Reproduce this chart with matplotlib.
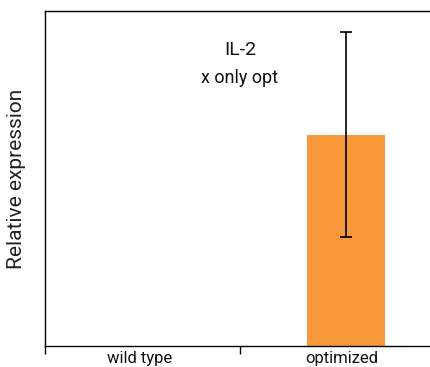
import matplotlib
matplotlib.use("Agg")
import matplotlib.pyplot as plt

# data
categories = ["wild type", "optimized"]
values = [0.0, 1.01]
errors = [0.0, 0.49]
bar_color = "#F7993A"

plt.rcParams["font.family"] = ["Roboto", "DejaVu Sans"]

fig = plt.figure(figsize=(4.31, 3.67), dpi=100)
W, H = 431, 367
# axes box in pixels: left 45, right cut off by the figure edge, top 11, bottom 346
ax = fig.add_axes([45 / W, (H - 346) / H, (445 - 45) / W, (346 - 11) / H])

# pixel = 140 + 202 * x
x_pos = [0, 1.02]
ax.bar(x_pos[1:], values[1:], width=0.386, color=bar_color, zorder=2)
ax.errorbar(x_pos[1:], values[1:], yerr=errors[1:], fmt="none", ecolor="black",
            elinewidth=1.2, capsize=4, capthick=1.2, zorder=3)

ax.set_xlim(-0.47, (445 - 140) / 202)
ax.set_ylim(0, 1.6)

ax.set_xticks([-0.47, (240 - 140) / 202])
ax.set_xticklabels([])
ax.set_xticks([0, 1.0], minor=True)
ax.set_xticklabels(categories, minor=True, fontsize=12, color="#111111")
ax.tick_params(axis="x", which="major", length=6, width=1, direction="out")
ax.tick_params(axis="x", which="minor", length=0, pad=3.5)
ax.set_yticks([])

for s in ["left", "top", "bottom"]:
    ax.spines[s].set_linewidth(1.0)
ax.spines["right"].set_visible(False)

ax.set_ylabel("Relative expression", fontsize=15, labelpad=14, color="#222222")

ax.text((240 - 45) / 400, 1 - (50 - 11) / 335, "IL-2", transform=ax.transAxes,
        ha="center", va="center", fontsize=14, color="#111111")
ax.text((240 - 45) / 400, 1 - (78 - 11) / 335, "x only opt", transform=ax.transAxes,
        ha="center", va="center", fontsize=13, color="#111111")

fig.savefig("out.png", dpi=100)
